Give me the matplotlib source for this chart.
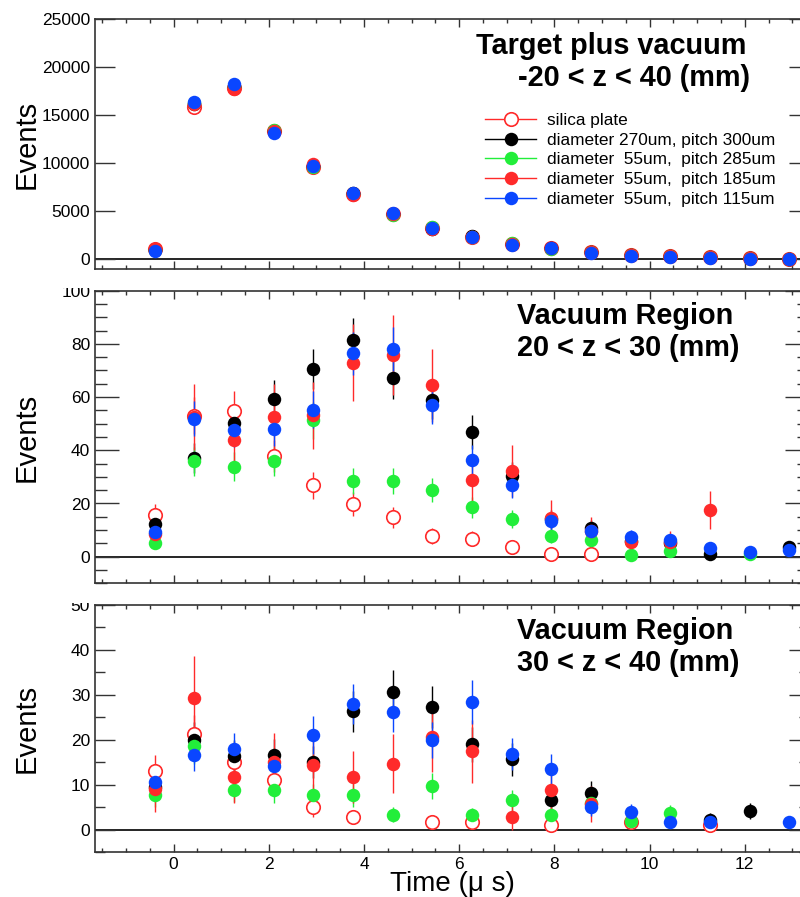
import numpy as np
import matplotlib.pyplot as plt
from matplotlib.lines import Line2D
from matplotlib.patches import Rectangle
from matplotlib.ticker import MultipleLocator

plt.rcParams['font.family'] = ['Liberation Sans', 'DejaVu Sans']

nan = np.nan

# bin centres (us)
t = [-0.40, 0.43, 1.27, 2.10, 2.93, 3.77, 4.60, 5.43, 6.27, 7.10,
     7.93, 8.77, 9.60, 10.43, 11.27, 12.10, 12.93]

labels = ['silica plate',
          'diameter 270um, pitch 300um',
          'diameter  55um,  pitch 285um',
          'diameter  55um,  pitch 185um',
          'diameter  55um,  pitch 115um']
colors = ['#ff2a2a', '#000000', '#22ee3a', '#ff2a2a', '#0a46ff']
filled = [False, True, True, True, True]

# --- target plus vacuum, -20 < z < 40 mm ---
top_silica = [1050, 15830, 17800, 13350, 9600, 6800, 4700, 3250, 2350, 1600, 1150, 800, 500, 300, 200, 100, 60]
top_d270 = [1000, 16150, 18000, 13300, 9700, 6950, 4750, 3200, 2400, 1550, 1150, 750, 450, 300, 200, 100, 60]
top_p285 = [950, 16300, 17950, 13450, 9600, 6850, 4650, 3350, 2300, 1700, 1100, 750, 450, 300, 250, 100, 60]
top_p185 = [1100, 16200, 17700, 13400, 9900, 6700, 4700, 3150, 2350, 1600, 1200, 800, 500, 300, 200, 100, 60]
top_p115 = [900, 16350, 18250, 13100, 9750, 6870, 4790, 3230, 2290, 1490, 1150, 625, 340, 210, 100, 80, 60]

# --- vacuum region, 20 < z < 30 mm ---
mid_silica = [15.8, 53, 54.8, 37.7, 26.8, 19.9, 14.8, 7.7, 6.7, 3.5, 1, 1, nan, nan, nan, nan, nan]
mid_silica_err = [4, 7, 7.5, 6, 5, 4.5, 4, 3, 2.8, 2, 1, 1, nan, nan, nan, nan, nan]
mid_d270 = [12.3, 37.2, 50.3, 59.4, 70.4, 81.4, 67, 58.8, 46.9, 30.5, 14, 10.8, 6, 5, 1, nan, 3.5]
mid_d270_err = [3.2, 5.6, 6.5, 7.2, 7.5, 8.4, 7.6, 7.1, 6.3, 5.1, 3.5, 3, 2.2, 2, 0.9, nan, 1.7]
mid_p285 = [5.2, 35.9, 33.9, 35.9, 51.3, 28.4, 28.4, 25.1, 18.6, 14.2, 7.6, 6.3, 0.8, 2.2, nan, 1.0, nan]
mid_p285_err = [2.1, 5.5, 5.4, 5.5, 7, 5, 5, 4.6, 4, 3.5, 2.5, 2.3, 0.8, 1.4, nan, 0.9, nan]
mid_p185 = [8.5, 52.5, 43.7, 52.5, 53.1, 72.9, 75.8, 64.5, 29, 32.2, 14.5, 9.5, 5.5, 5.5, 17.6, nan, nan]
mid_p185_err = [5, 12.5, 11.5, 12.5, 12.6, 14.5, 15, 13.7, 9.3, 9.7, 6.8, 5.3, 4, 4, 7, nan, nan]
mid_p115 = [9.4, 51.8, 47.5, 48.1, 55.3, 76.4, 78, 56.9, 36.4, 26.8, 13.3, 9.6, 7.5, 6.4, 3.2, 1.6, 2.5]
mid_p115_err = [2.8, 6.6, 6.3, 6.4, 6.9, 8.1, 8.2, 7, 5.6, 4.8, 3.4, 2.9, 2.5, 2.3, 1.6, 1.2, 1.5]

# --- vacuum region, 30 < z < 40 mm ---
bot_silica = [13, 21.3, 15, 11, 5, 2.7, nan, 1.7, 1.7, nan, 1, nan, 1.7, nan, 1, nan, nan]
bot_silica_err = [3.5, 4.3, 3.7, 3.1, 2.2, 1.5, nan, 1.2, 1.2, nan, 0.9, nan, 1.2, nan, 0.9, nan, nan]
bot_d270 = [9.5, 20, 16.3, 16.5, 15, 26.3, 30.6, 27.3, 19, 15.6, 6.5, 8.1, nan, nan, 2.2, 4.1, nan]
bot_d270_err = [2.8, 4, 3.7, 3.7, 3.5, 4.6, 5, 4.7, 3.9, 3.6, 2.3, 2.6, nan, nan, 1.4, 1.8, nan]
bot_p285 = [7.6, 18.7, 8.9, 8.7, 7.6, 7.6, 3.3, 9.8, 3.2, 6.5, 3.3, 5.9, 2.0, 3.6, nan, nan, nan]
bot_p285_err = [2.5, 4, 2.8, 2.8, 2.6, 2.6, 1.7, 2.9, 1.7, 2.4, 1.7, 2.3, 1.3, 1.8, nan, nan, nan]
bot_p185 = [9.0, 29.4, 11.6, 15, 14.4, 11.7, 14.7, 20.7, 17.4, 2.7, 8.7, 5.7, nan, nan, nan, nan, nan]
bot_p185_err = [5.2, 9.2, 5.8, 6.5, 6.4, 5.8, 6.5, 7.8, 7, 2.8, 5, 4, nan, nan, nan, nan, nan]
bot_p115 = [10.6, 16.7, 17.9, 14.1, 21, 28, 26.2, 20, 28.4, 16.8, 13.5, 5, 3.9, 1.6, 1.6, nan, 1.6]
bot_p115_err = [2.9, 3.7, 3.6, 3.3, 4.2, 4.4, 4.5, 4, 5, 3.6, 3.3, 2, 1.8, 1.2, 1.2, nan, 1.2]

W, H = 800, 897
fig = plt.figure(figsize=(W / 100, H / 100), dpi=100)


def pix_axes(x0, y0, x1, y1):
    return fig.add_axes([x0 / W, 1 - y1 / H, (x1 - x0) / W, (y1 - y0) / H])


ax_top = pix_axes(95, 19, 809, 269)
ax_mid = pix_axes(95, 290.7, 809, 583.3)
ax_bot = pix_axes(95, 605, 809, 852)

frame = '#333333'


def draw_panel(ax, series, errs):
    for vals, err, c, f in zip(series, errs, colors, filled):
        ax.errorbar(t, vals, yerr=err, fmt='o', color=c, ms=9.7,
                    mfc=c if f else 'white', mec=c, mew=0 if f else 1.2,
                    elinewidth=1.0, capsize=0, zorder=2)
    ax.axhline(0, color='black', lw=1.2, zorder=1.5)
    ax.set_xlim(-1.65, 13.35)
    ax.xaxis.set_major_locator(MultipleLocator(2))
    ax.xaxis.set_minor_locator(MultipleLocator(0.5))
    ax.tick_params(which='both', direction='in', top=True, right=True,
                   color=frame, width=1, labelsize=12.5, pad=3.5)
    ax.tick_params(axis='x', which='major', length=5.5)
    ax.tick_params(axis='x', which='minor', length=3)
    for s in ax.spines.values():
        s.set_color(frame)
        s.set_linewidth(1.2)
    ax.set_ylabel('Events', fontsize=21)
    ax.yaxis.set_label_coords(-0.0756, 0.5)


draw_panel(ax_top, [top_silica, top_d270, top_p285, top_p185, top_p115], [None] * 5)
ax_top.set_ylim(-1000, 25000)
ax_top.yaxis.set_major_locator(MultipleLocator(5000))
ax_top.tick_params(axis='y', which='major', length=14.4)
ax_top.tick_params(axis='x', labelbottom=False)

draw_panel(ax_mid, [mid_silica, mid_d270, mid_p285, mid_p185, mid_p115],
           [mid_silica_err, mid_d270_err, mid_p285_err, mid_p185_err, mid_p115_err])
ax_mid.set_ylim(-10, 100)
ax_mid.yaxis.set_major_locator(MultipleLocator(20))
ax_mid.yaxis.set_minor_locator(MultipleLocator(5))
ax_mid.tick_params(axis='y', which='major', length=17)
ax_mid.tick_params(axis='y', which='minor', length=8.5)
ax_mid.tick_params(axis='x', labelbottom=False)

draw_panel(ax_bot, [bot_silica, bot_d270, bot_p285, bot_p185, bot_p115],
           [bot_silica_err, bot_d270_err, bot_p285_err, bot_p185_err, bot_p115_err])
ax_bot.set_ylim(-5, 50)
ax_bot.yaxis.set_major_locator(MultipleLocator(10))
ax_bot.yaxis.set_minor_locator(MultipleLocator(5))
ax_bot.tick_params(axis='y', which='major', length=14.4)
ax_bot.tick_params(axis='y', which='minor', length=7.5)
ax_bot.set_xlabel('Time (μ s)', fontsize=20, va='baseline')
ax_bot.xaxis.set_label_coords(0.5, -0.156)

# panel titles
tb = dict(fontsize=20.8, fontweight='bold', va='center')
ax_top.text(0.912, 0.892, 'Target plus vacuum', ha='right', transform=ax_top.transAxes, **tb)
ax_top.text(0.918, 0.764, '-20 < z < 40 (mm)', ha='right', transform=ax_top.transAxes, **tb)
ax_mid.text(0.591, 0.914, 'Vacuum Region', ha='left', transform=ax_mid.transAxes, **tb)
ax_mid.text(0.591, 0.804, '20 < z < 30 (mm)', ha='left', transform=ax_mid.transAxes, **tb)
ax_bot.text(0.591, 0.895, 'Vacuum Region', ha='left', transform=ax_bot.transAxes, **tb)
ax_bot.text(0.591, 0.767, '30 < z < 40 (mm)', ha='left', transform=ax_bot.transAxes, **tb)

# legend (line + marker, like the ROOT "lp" option)
handles = [Line2D([], [], color=c, lw=1, marker='o', ms=9.7,
                  mfc=c if f else 'white', mec=c, mew=0 if f else 1.2)
           for c, f in zip(colors, filled)]
ax_top.legend(handles, labels, loc='upper left', bbox_to_anchor=(485 / W, 1 - 113 / H),
              bbox_transform=fig.transFigure, frameon=False, fontsize=12.4,
              handlelength=2.97, handletextpad=0.64, labelspacing=0.265,
              borderpad=0, borderaxespad=0)

# pad edges hide the tops of the highest tick labels
fig.add_artist(Rectangle((0, 1 - 288 / H), 92 / W, 16 / H, transform=fig.transFigure,
                         facecolor='white', edgecolor='none', zorder=5))
fig.add_artist(Rectangle((0, 1 - 603 / H), 92 / W, 16 / H, transform=fig.transFigure,
                         facecolor='white', edgecolor='none', zorder=5))

fig.savefig('out.png', dpi=100)
